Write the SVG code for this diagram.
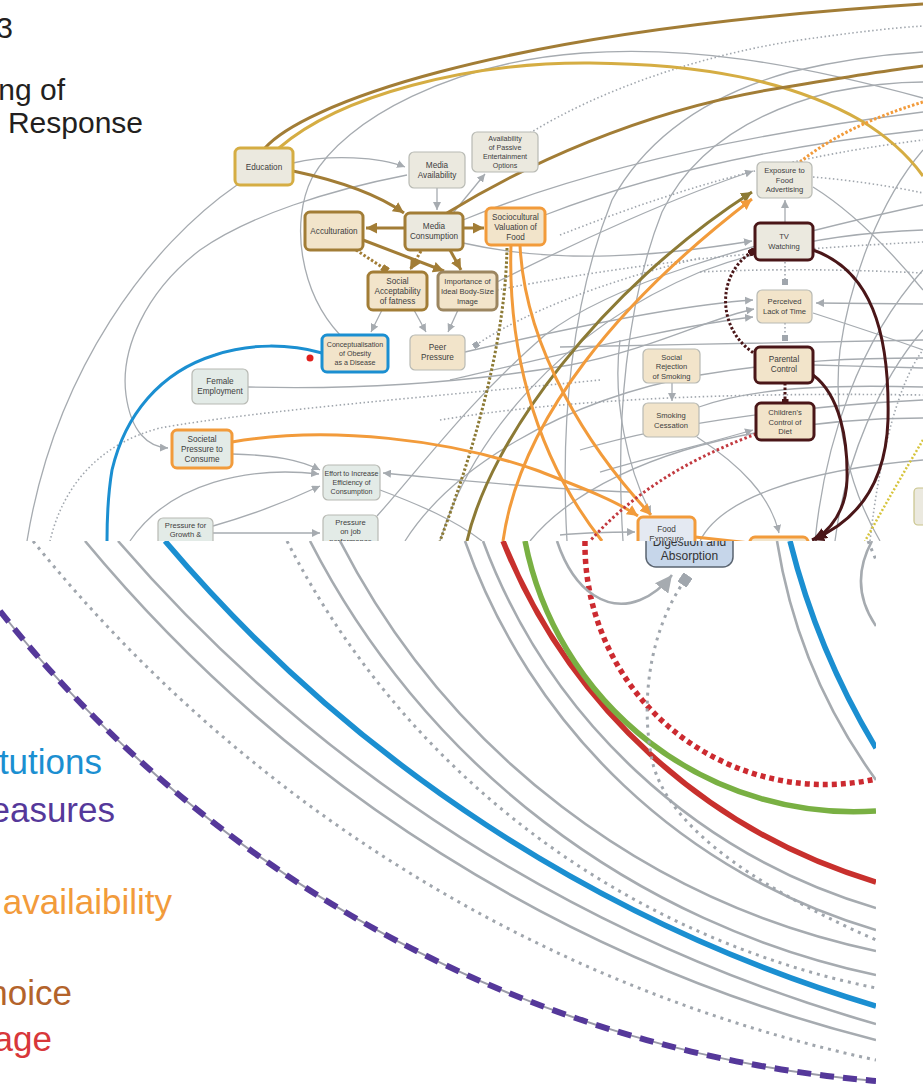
<svg xmlns="http://www.w3.org/2000/svg" width="923" height="1089" viewBox="0 0 923 1089">
<style>
.g{fill:none;stroke:#a6abb0;stroke-width:1.3}
.gd{fill:none;stroke:#a0a6ad;stroke-width:1.6;stroke-dasharray:1.5 2.5}
.dg{fill:none;stroke:#a27d36;stroke-width:3}
.dgd{fill:none;stroke:#a27d36;stroke-width:3;stroke-dasharray:2.5 2}
.lgo{fill:none;stroke:#d5ad43;stroke-width:3}
.ol{fill:none;stroke:#8c7a35;stroke-width:3}
.old{fill:none;stroke:#8c7a35;stroke-width:3;stroke-dasharray:2.5 2}
.or{fill:none;stroke:#f29b3b;stroke-width:3}
.ord{fill:none;stroke:#f29b3b;stroke-width:3;stroke-dasharray:2.5 2}
.bl{fill:none;stroke:#1b8fd1;stroke-width:3}
.mr{fill:none;stroke:#4a1618;stroke-width:3}
.mrd{fill:none;stroke:#4a1618;stroke-width:3;stroke-dasharray:2.5 2}
.rdd{fill:none;stroke:#c23a40;stroke-width:3;stroke-dasharray:2.5 2.5}
.yd{fill:none;stroke:#d6c43c;stroke-width:2.5;stroke-dasharray:2 2}
.G{fill:none;stroke:#a6abb0;stroke-width:2.6}
.GD{fill:none;stroke:#a0a6ad;stroke-width:3;stroke-dasharray:3 5}
.BL{fill:none;stroke:#1b8fd1;stroke-width:5.5}
.RD{fill:none;stroke:#c8302d;stroke-width:5.5}
.GR{fill:none;stroke:#79b043;stroke-width:5.5}
.RDD{fill:none;stroke:#cc2a30;stroke-width:5.5;stroke-dasharray:5 4}
.PU{fill:none;stroke:#55389a;stroke-width:6;stroke-dasharray:14 9}
.PUu{fill:none;stroke:#9a9aa8;stroke-width:2}
.n{stroke:#b8bab4;stroke-width:1.2}
.fb{fill:#f2e4ca}.fg{fill:#ebe9df}.fn{fill:#e3ebe7}.fl{fill:#e4e9f2}
.sdg{stroke:#a27d36;stroke-width:3}
.slg{stroke:#d5ad43;stroke-width:3}
.sor{stroke:#f29b3b;stroke-width:3}
.sbl{stroke:#1b8fd1;stroke-width:3}
.smr{stroke:#4a1618;stroke-width:3}
.sim{stroke:#9c8660;stroke-width:3}
.t{font-family:"Liberation Sans",Arial,sans-serif;font-size:8.2px;fill:#404040;text-anchor:middle}
.tm{font-family:"Liberation Sans",Arial,sans-serif;font-size:7.6px;fill:#404040;text-anchor:middle}
.ts{font-family:"Liberation Sans",Arial,sans-serif;font-size:7.1px;fill:#404040;text-anchor:middle}
.title{font-family:"Liberation Sans",Arial,sans-serif;font-size:30px;fill:#231f20;text-anchor:end}
.leg{font-family:"Liberation Sans",Arial,sans-serif;font-size:35px;text-anchor:end}
</style>
<defs>
<marker id="aG" viewBox="0 0 10 10" refX="10" refY="5" markerWidth="8" markerHeight="8" orient="auto" markerUnits="userSpaceOnUse"><path d="M0,0 L10,5 L0,10 z" fill="#a6abb0"/></marker>
<marker id="aDG" viewBox="0 0 10 10" refX="10" refY="5" markerWidth="11" markerHeight="11" orient="auto" markerUnits="userSpaceOnUse"><path d="M0,0 L10,5 L0,10 z" fill="#a27d36"/></marker>
<marker id="aO" viewBox="0 0 10 10" refX="10" refY="5" markerWidth="11" markerHeight="11" orient="auto" markerUnits="userSpaceOnUse"><path d="M0,0 L10,5 L0,10 z" fill="#f29b3b"/></marker>
<marker id="aOl" viewBox="0 0 10 10" refX="10" refY="5" markerWidth="11" markerHeight="11" orient="auto" markerUnits="userSpaceOnUse"><path d="M0,0 L10,5 L0,10 z" fill="#8c7a35"/></marker>
<marker id="aM" viewBox="0 0 10 10" refX="10" refY="5" markerWidth="12" markerHeight="12" orient="auto" markerUnits="userSpaceOnUse"><path d="M0,0 L10,5 L0,10 z" fill="#4a1618"/></marker>
<marker id="sG" viewBox="0 0 10 10" refX="5" refY="5" markerWidth="6" markerHeight="6" orient="auto" markerUnits="userSpaceOnUse"><rect width="10" height="10" fill="#a0a6ad"/></marker>
<marker id="sDG" viewBox="0 0 10 10" refX="5" refY="5" markerWidth="7" markerHeight="7" orient="auto" markerUnits="userSpaceOnUse"><rect width="10" height="10" fill="#a27d36"/></marker>
<marker id="sM" viewBox="0 0 10 10" refX="5" refY="5" markerWidth="7" markerHeight="7" orient="auto" markerUnits="userSpaceOnUse"><rect width="10" height="10" fill="#4a1618"/></marker>
<marker id="aGB" viewBox="0 0 10 10" refX="10" refY="5" markerWidth="17" markerHeight="17" orient="auto" markerUnits="userSpaceOnUse"><path d="M0,0 L10,5 L0,10 z" fill="#a6abb0"/></marker>
<marker id="sGB" viewBox="0 0 10 10" refX="5" refY="5" markerWidth="11" markerHeight="11" orient="auto" markerUnits="userSpaceOnUse"><rect width="10" height="10" fill="#a0a6ad"/></marker>
<clipPath id="clipB"><rect x="0" y="541" width="876" height="548"/></clipPath>
</defs>
<rect width="923" height="1089" fill="#ffffff"/>

<g id="title">
<text class="title" x="13" y="38">3</text>
<text class="title" x="65" y="100">ng of</text>
<text class="title" x="143" y="133">Response</text>
</g>

<g id="connectors">
<path class="g" d="M293,163 C330,154 380,157 405,167" marker-end="url(#aG)"/>
<path class="g" d="M437,188 L437,210" marker-end="url(#aG)"/>
<path class="g" d="M453,213 L485,174" marker-end="url(#aG)"/>
<path class="g" d="M382,310 L371,332" marker-end="url(#aG)"/>
<path class="g" d="M414,310 L426,332" marker-end="url(#aG)"/>
<path class="g" d="M458,310 L448,332" marker-end="url(#aG)"/>
<path class="g" d="M237,185 C150,245 55,370 27,541"/>
<path class="g" d="M407,175 C330,190 250,215 200,250 C145,292 120,350 126,395 C131,432 148,447 168,448" marker-end="url(#aG)"/>
<path class="g" d="M340,335 C300,292 290,222 312,178 C345,118 455,62 583,53 C690,46 790,62 923,98"/>
<path class="g" d="M248,387 C360,390 470,382 570,365 C650,350 710,318 754,309" marker-end="url(#aG)"/>
<path class="g" d="M232,454 C275,455 300,460 320,470" marker-end="url(#aG)"/>
<path class="g" d="M130,541 C170,482 250,466 319,474" marker-end="url(#aG)"/>
<path class="g" d="M213,526 C252,515 290,500 320,486" marker-end="url(#aG)"/>
<path class="g" d="M213,533 L320,533" marker-end="url(#aG)"/>
<path class="g" d="M630,492 C520,488 440,478 383,473" marker-end="url(#aG)"/>
<path class="g" d="M380,490 C420,505 455,520 482,541"/>
<path class="g" d="M377,516 C420,468 470,400 545,335 C610,285 740,245 923,205"/>
<path class="g" d="M463,243 C560,265 660,256 752,241" marker-end="url(#aG)"/>
<path class="g" d="M497,282 C580,240 680,195 753,171" marker-end="url(#aG)"/>
<path class="g" d="M465,352 C560,330 680,305 753,300" marker-end="url(#aG)"/>
<path class="g" d="M450,380 C560,355 680,325 753,317" marker-end="url(#aG)"/>
<path class="g" d="M785,223 L785,200" marker-end="url(#aG)"/>
<path class="g" d="M672,383 L672,401" marker-end="url(#aG)"/>
<path class="g" d="M697,437 C740,465 770,495 779,533" marker-end="url(#aG)"/>
<path class="g" d="M600,472 C670,452 720,440 753,430" marker-end="url(#aG)"/>
<path class="g" d="M620,340 C612,400 628,470 651,514" marker-end="url(#aG)"/>
<path class="g" d="M560,535 C590,532 610,532 635,532" marker-end="url(#aG)"/>
<path class="g" d="M567,541 C560,420 572,300 612,200 C645,140 705,96 790,72 C840,60 890,54 923,52"/>
<path class="g" d="M623,541 C615,420 627,300 662,212 C692,150 752,112 832,92 C872,84 902,82 923,82"/>
<path class="g" d="M440,541 C470,440 560,330 700,272 C780,242 860,232 923,230"/>
<path class="g" d="M405,541 C450,470 560,400 700,375 C790,360 860,358 923,358"/>
<path class="g" d="M530,541 C570,492 650,452 760,432 C830,420 880,418 923,418"/>
<path class="g" d="M699,407 C760,385 850,385 923,387"/>
<path class="g" d="M560,347 C680,344 820,343 923,340"/>
<path class="g" d="M463,220 C560,180 700,140 923,112"/>
<path class="g" d="M545,215 C640,178 760,148 923,130"/>
<path class="g" d="M813,187 C850,210 890,250 923,290"/>
<path class="g" d="M923,304 L816,303" marker-end="url(#aG)"/>
<path class="g" d="M813,313 C850,325 890,338 923,350"/>
<path class="g" d="M813,365 C850,366 890,367 923,368"/>
<path class="g" d="M815,541 C825,440 860,340 923,270"/>
<path class="g" d="M835,541 C845,460 880,380 923,330"/>
<path class="g" d="M700,541 C720,500 800,470 923,460"/>
<path class="g" d="M580,450 C680,420 820,405 923,400"/>
<path class="g" d="M923,150 C880,200 850,280 840,350 C832,420 850,490 880,541"/>
<path class="gd" d="M530,133 C600,90 700,55 800,40 C850,33 890,28 923,26"/>
<path class="gd" d="M700,258 C600,282 520,315 476,345" marker-end="url(#sG)"/>
<path class="gd" d="M600,380 C450,395 260,410 160,428 C95,445 62,490 50,541"/>
<path class="gd" d="M785,262 L785,282" marker-end="url(#sG)"/>
<path class="gd" d="M785,323 L785,338" marker-end="url(#sG)"/>
<path class="gd" d="M813,177 C850,180 890,186 923,193"/>
<path class="gd" d="M700,272 C780,268 860,270 923,273"/>
<path class="gd" d="M497,290 C600,270 720,252 923,242"/>
<path class="gd" d="M560,235 C650,200 760,160 923,140"/>
<path class="gd" d="M870,541 C880,450 900,380 923,350"/>
<path class="gd" d="M440,420 C560,400 720,392 923,395"/>
<path class="dg" d="M293,171 C340,181 380,196 404,213" marker-end="url(#aDG)"/>
<path class="dg" d="M405,228 L366,228" marker-end="url(#aDG)"/>
<path class="dg" d="M463,228 L484,228" marker-end="url(#aDG)"/>
<path class="dg" d="M363,240 C395,252 420,262 444,271" marker-end="url(#aDG)"/>
<path class="dg" d="M450,250 L461,270" marker-end="url(#aDG)"/>
<path class="dgd" d="M356,250 L385,269" marker-end="url(#sDG)"/>
<path class="dgd" d="M421,251 L410,270" marker-end="url(#aDG)"/>
<path class="dg" d="M265,148 C300,108 480,32 923,4"/>
<path class="lgo" d="M279,148 C340,95 470,62 590,63 C700,64 790,80 860,120 C890,138 910,158 923,176"/>
<path class="dg" d="M447,213 C520,168 640,110 780,88 C840,78 890,70 923,66"/>
<path class="ol" d="M467,541 C490,440 600,290 752,192" marker-end="url(#aOl)"/>
<path class="old" d="M507,248 C505,350 470,460 440,541"/>
<path class="or" d="M503,541 C520,420 620,300 752,199" marker-end="url(#aO)"/>
<path class="or" d="M520,245 C525,350 590,450 651,515" marker-end="url(#aO)"/>
<path class="or" d="M511,245 C508,340 530,450 602,541"/>
<path class="or" d="M232,442 C330,425 450,440 536,470 C580,487 615,500 638,516" marker-end="url(#aO)"/>
<path class="or" d="M695,537 L750,543"/>
<path class="ord" d="M800,162 C840,130 890,112 923,102"/>
<path class="bl" d="M322,353 C290,344 250,343 215,355 C160,372 125,415 112,470 C107,500 107,525 107,541"/>
<path class="mr" d="M813,250 C870,270 890,330 888,420 C886,480 860,520 812,540" marker-end="url(#aM)"/>
<path class="mr" d="M813,375 C840,395 848,440 847,480 C846,510 832,528 815,540" marker-end="url(#aM)"/>
<path class="mrd" d="M757,355 C717,332 715,275 752,252" marker-end="url(#sM)"/>
<path class="mrd" d="M785,383 L785,402" marker-end="url(#sM)"/>
<path class="rdd" d="M756,434 C700,455 640,485 590,541"/>
<path class="yd" d="M923,440 C905,470 885,505 865,541"/>
<circle cx="310" cy="358" r="3.5" fill="#e0201c"/>
</g>

<g id="node-education"><rect class="fg slg" x="235" y="148" width="58" height="37" rx="5"/><text class="t" x="264" y="169.5">Education</text></g>
<g id="node-media-availability"><rect class="fg n" x="409" y="152" width="56" height="36" rx="5"/><text class="t" x="437" y="168">Media</text><text class="t" x="437" y="178">Availability</text></g>
<g id="node-passive-entertainment"><rect class="fg n" x="472" y="132" width="66" height="40" rx="5"/><text class="ts" x="505" y="141">Availability</text><text class="ts" x="505" y="150">of Passive</text><text class="ts" x="505" y="159">Entertainment</text><text class="ts" x="505" y="168">Options</text></g>
<g id="node-acculturation"><rect class="fb sdg" x="305" y="212" width="58" height="38" rx="5"/><text class="t" x="334" y="234">Acculturation</text></g>
<g id="node-media-consumption"><rect class="fg sdg" x="405" y="213" width="58" height="37" rx="5"/><text class="t" x="434" y="228.5">Media</text><text class="t" x="434" y="238.5">Consumption</text></g>
<g id="node-sociocultural"><rect class="fb sor" x="486" y="208" width="59" height="37" rx="5"/><text class="t" x="515.5" y="219.5">Sociocultural</text><text class="t" x="515.5" y="229.5">Valuation of</text><text class="t" x="515.5" y="239.5">Food</text></g>
<g id="node-social-acceptability"><rect class="fb sdg" x="368" y="272" width="59" height="38" rx="5"/><text class="t" x="397.5" y="284">Social</text><text class="t" x="397.5" y="294">Acceptability</text><text class="t" x="397.5" y="304">of fatness</text></g>
<g id="node-importance"><rect class="fb sim" x="438" y="272" width="59" height="38" rx="5"/><text class="tm" x="467.5" y="284">Importance of</text><text class="tm" x="467.5" y="293.8">Ideal Body-Size</text><text class="tm" x="467.5" y="303.6">Image</text></g>
<g id="node-conceptualisation"><rect class="fb sbl" x="322" y="335" width="66" height="37" rx="5"/><text class="ts" x="355" y="346.8">Conceptualisation</text><text class="ts" x="355" y="356">of Obesity</text><text class="ts" x="355" y="365.2">as a Disease</text></g>
<g id="node-peer-pressure"><rect class="fb n" x="410" y="335" width="55" height="35" rx="5"/><text class="t" x="437.5" y="349.5">Peer</text><text class="t" x="437.5" y="359.5">Pressure</text></g>
<g id="node-female-employment"><rect class="fn n" x="192" y="369" width="56" height="35" rx="5"/><text class="t" x="220" y="383.5">Female</text><text class="t" x="220" y="393.5">Employment</text></g>
<g id="node-societal-pressure"><rect class="fn sor" x="172" y="430" width="60" height="38" rx="5"/><text class="t" x="202" y="442">Societal</text><text class="t" x="202" y="452">Pressure to</text><text class="t" x="202" y="462">Consume</text></g>
<g id="node-effort"><rect class="fn n" x="323" y="465" width="57" height="35" rx="5"/><text class="ts" x="351.5" y="475.8">Effort to Increase</text><text class="ts" x="351.5" y="485">Efficiency of</text><text class="ts" x="351.5" y="494.2">Consumption</text></g>
<g id="node-pressure-growth"><rect class="fn n" x="158" y="518" width="55" height="40" rx="5"/><text class="tm" x="185.5" y="527.5">Pressure for</text><text class="tm" x="185.5" y="537">Growth &amp;</text><text class="tm" x="185.5" y="546.5">Profitability</text></g>
<g id="node-pressure-job"><rect class="fn n" x="323" y="515" width="55" height="40" rx="5"/><text class="tm" x="350.5" y="524.5">Pressure</text><text class="tm" x="350.5" y="534">on job</text><text class="tm" x="350.5" y="543.5">performance</text></g>
<g id="node-exposure-advertising"><rect class="fg n" x="757" y="162" width="55" height="36" rx="5"/><text class="tm" x="784.5" y="172.8">Exposure to</text><text class="tm" x="784.5" y="182.6">Food</text><text class="tm" x="784.5" y="192.4">Advertising</text></g>
<g id="node-tv-watching"><rect class="fg smr" x="755" y="223" width="58" height="37" rx="5"/><text class="tm" x="784" y="239">TV</text><text class="tm" x="784" y="249">Watching</text></g>
<g id="node-perceived-lack"><rect class="fb n" x="757" y="290" width="55" height="33" rx="5"/><text class="tm" x="784.5" y="304">Perceived</text><text class="tm" x="784.5" y="314">Lack of Time</text></g>
<g id="node-parental-control"><rect class="fb smr" x="755" y="347" width="58" height="36" rx="5"/><text class="t" x="784" y="362">Parental</text><text class="t" x="784" y="372">Control</text></g>
<g id="node-childrens-control"><rect class="fb smr" x="756" y="403" width="58" height="37" rx="5"/><text class="tm" x="785" y="414.8">Children's</text><text class="tm" x="785" y="424.6">Control of</text><text class="tm" x="785" y="434.4">Diet</text></g>
<g id="node-social-rejection"><rect class="fb n" x="643" y="349" width="57" height="34" rx="5"/><text class="tm" x="671.5" y="359.8">Social</text><text class="tm" x="671.5" y="369.4">Rejection</text><text class="tm" x="671.5" y="379">of Smoking</text></g>
<g id="node-smoking-cessation"><rect class="fb n" x="643" y="403" width="56" height="34" rx="5"/><text class="tm" x="671" y="417.5">Smoking</text><text class="tm" x="671" y="427.5">Cessation</text></g>
<g id="node-food-exposure"><rect class="fl sor" x="638" y="517" width="57" height="40" rx="5"/><text class="t" x="666.5" y="531.5">Food</text><text class="t" x="666.5" y="541.5">Exposure</text></g>
<g id="node-lower-right"><rect class="fb sor" x="750" y="537" width="58" height="20" rx="5"/></g>
<g id="node-far-right"><rect class="fg n" x="914" y="488" width="20" height="37" rx="4" style="stroke:#c9c48a"/></g>

<g id="zoomed-section">
<rect x="0" y="541" width="923" height="548" fill="#ffffff"/>
<g id="zoomed-connectors" clip-path="url(#clipB)">
<path class="GD" d="M33,541 A1480,1480 0 0 0 876,1060"/>
<path class="G" d="M85,541 A1507,1507 0 0 0 876,1040"/>
<path class="G" d="M118,541 A1565,1565 0 0 0 876,1024"/>
<path class="BL" d="M165,541 A1490,1490 0 0 0 876,1006"/>
<path class="GD" d="M287,541 A850,850 0 0 0 876,988"/>
<path class="G" d="M310,541 A830,830 0 0 0 876,975"/>
<path class="G" d="M340,541 A785,785 0 0 0 876,951"/>
<path class="G" d="M465,541 A620,620 0 0 0 876,930"/>
<path class="G" d="M483,541 A600,600 0 0 0 876,908"/>
<path class="RD" d="M503,541 A580,580 0 0 0 876,882"/>
<path class="GR" d="M525,541 A335,335 0 0 0 876,811"/>
<path class="RDD" d="M585,541 A240,240 0 0 0 876,779"/>
<path class="G" d="M777,541 A554,554 0 0 0 876,780"/>
<path class="BL" d="M790,541 A750,750 0 0 0 876,748"/>
<path class="G" d="M872,541 Q848,585 876,626"/>
<path class="GD" d="M868,541 L876,560"/>
<path class="GD" d="M685,580 C650,630 640,700 652,760 C665,820 740,880 876,940" marker-start="url(#sGB)"/>
<path class="G" d="M557,541 C575,595 610,612 640,600 C655,594 665,584 672,575" marker-end="url(#aGB)"/>
<path class="PUu" d="M0,611 A1250,1250 0 0 0 876,1081"/>
<path class="PU" d="M0,611 A1250,1250 0 0 0 876,1081"/>
</g>
<g id="node-digestion" clip-path="url(#clipB)"><rect x="646" y="520" width="87" height="47" rx="10" fill="#c6d6ea" stroke="#5a6470" stroke-width="1.5"/><text x="689.5" y="545.5" style="font-family:'Liberation Sans',Arial,sans-serif;font-size:12px;fill:#333;text-anchor:middle">Digestion and</text><text x="689.5" y="559.5" style="font-family:'Liberation Sans',Arial,sans-serif;font-size:12px;fill:#333;text-anchor:middle">Absorption</text></g>
<g id="legend">
<text class="leg" x="102" y="774" fill="#1b8fd1">tutions</text>
<text class="leg" x="115" y="822" fill="#55389a">easures</text>
<text class="leg" x="172" y="914" fill="#f29b3b">availaibility</text>
<text class="leg" x="72" y="1005" fill="#b3632b">hoice</text>
<text class="leg" x="52" y="1051" fill="#d8373a">age</text>
</g>
</g>
</svg>
